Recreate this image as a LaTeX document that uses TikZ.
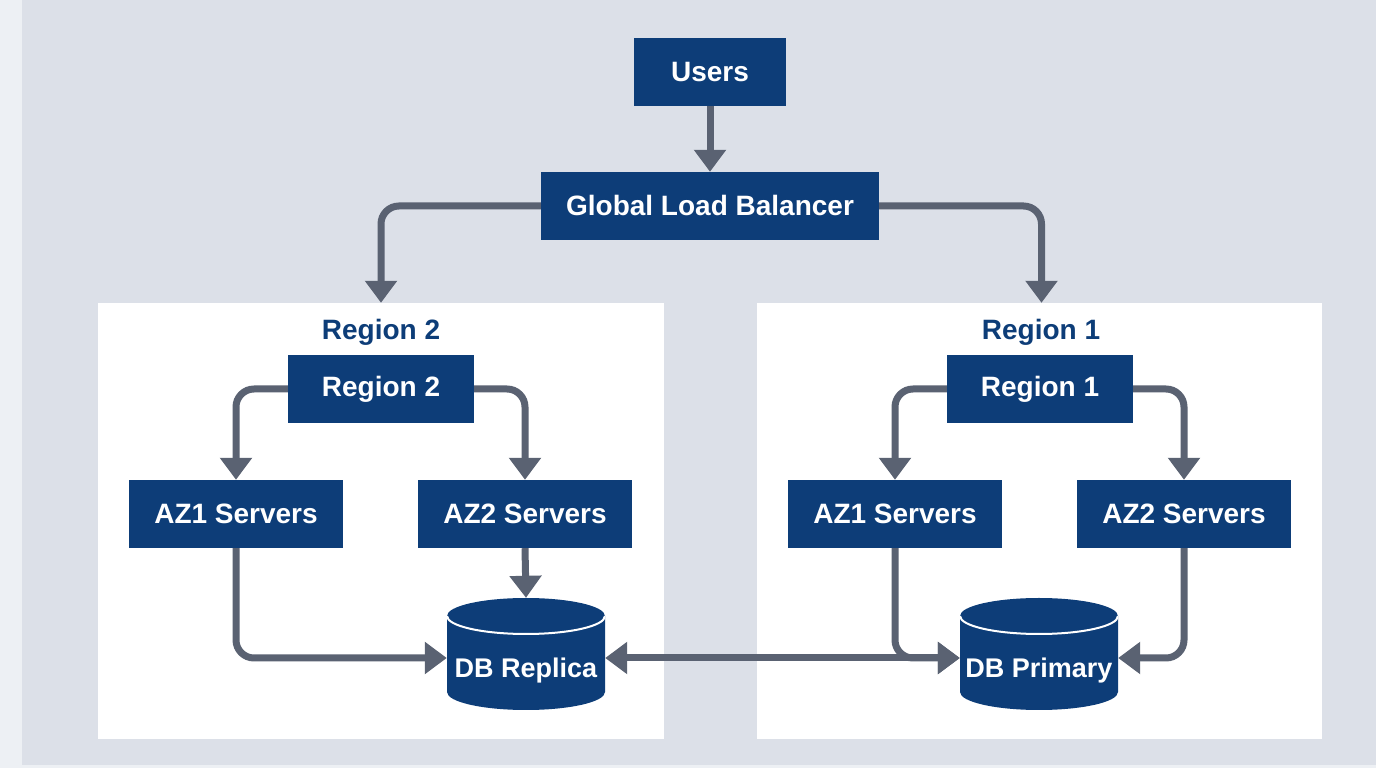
\documentclass[tikz,border=0pt]{standalone}
\usepackage{fontspec}
\setmainfont{Liberation Sans}
\usetikzlibrary{arrows.meta,positioning}
\definecolor{navy}{HTML}{0D3D78}
\definecolor{wire}{HTML}{5A6272}
\definecolor{panel}{HTML}{DCE0E8}
\definecolor{strip}{HTML}{EDF0F4}
\begin{document}
\begin{tikzpicture}[x=1pt, y=1pt,
    box/.style={fill=navy, text=white, font=\bfseries\fontsize{28}{32}\selectfont, minimum height=68pt, inner sep=0pt},
    regionbox/.style={fill=white, minimum width=566pt, minimum height=436pt, inner sep=0pt},
    regiontitle/.style={text=navy, font=\bfseries\fontsize{28}{32}\selectfont, inner sep=0pt},
    db/.style={fill=white, text=white, font=\bfseries\fontsize{27}{32}\selectfont, minimum width=158pt, inner sep=0pt,
        text height=80pt, text depth=32pt,
        path picture={
            \fill[navy] ([yshift=-18pt]path picture bounding box.north west)
                -- ([yshift=18pt]path picture bounding box.south west)
                arc[start angle=180, end angle=360, x radius=79pt, y radius=18pt]
                -- ([yshift=-18pt]path picture bounding box.north east)
                arc[start angle=0, end angle=180, x radius=79pt, y radius=18pt] -- cycle;
            \draw[white, line width=2pt] ([yshift=-18pt]path picture bounding box.north west)
                arc[start angle=180, end angle=360, x radius=79pt, y radius=18pt];
        }},
    arrow/.style={-{Triangle[length=22pt,width=31pt]}, line width=7pt, draw=wire, rounded corners=18pt},
    twoway/.style={arrow, {Triangle[length=22pt,width=31pt]}-{Triangle[length=22pt,width=31pt]}}
]
% Background
\fill[strip] (0,0) rectangle (1376,768);
\fill[panel] (22,3) rectangle (1376,768);
\useasboundingbox (0,0) rectangle (1376,768);

% Entry point
\node[box, minimum width=152pt] (users) at (710,696) {Users};
\node[box, minimum width=338pt] (glb) at (710,562) {Global Load Balancer};

% Region panels
\node[regionbox] (westpanel) at (381,247) {};
\node[regionbox, minimum width=565pt] (eastpanel) at (1039.5,247) {};
\node[regiontitle] (westtitle) at (381,436) {Region 2};
\node[regiontitle] (easttitle) at (1041,436) {Region 1};

% Region 2 (left)
\node[box, minimum width=186pt] (region2) at (381,379) {Region 2};
\node[box, minimum width=214pt] (az1west) at (236,254) {AZ1 Servers};
\node[box, minimum width=214pt] (az2west) at (525,254) {AZ2 Servers};
\node[db] (replica) at (526,114) {DB Replica};

% Region 1 (right)
\node[box, minimum width=186pt] (region1) at (1040,379) {Region 1};
\node[box, minimum width=214pt] (az1east) at (895,254) {AZ1 Servers};
\node[box, minimum width=214pt] (az2east) at (1184,254) {AZ2 Servers};
\node[db] (primary) at (1039,114) {DB Primary};

% Traffic from users down to the regions
\draw[arrow] (users.south) -- (glb.north);
\draw[arrow] (glb.west) -| (westpanel.north);
\draw[arrow] (glb.east) -| ([xshift=2pt]eastpanel.north);

% Inside Region 2
\draw[arrow] (region2.west) -| (az1west.north);
\draw[arrow] (region2.east) -| (az2west.north);
\draw[arrow] (az2west.south) -- (replica.north);
\draw[arrow] (az1west.south) |- ([yshift=-4pt]replica.west);

% Inside Region 1
\draw[arrow] (region1.west) -| (az1east.north);
\draw[arrow] (region1.east) -| (az2east.north);
\draw[arrow] (az1east.south) |- ([yshift=-4pt]primary.west);
\draw[arrow] (az2east.south) |- ([yshift=-4pt]primary.east);

% Replication between the databases
\draw[twoway] ([yshift=-4pt]replica.east) -- ([yshift=-4pt]primary.west);
\end{tikzpicture}
\end{document}
